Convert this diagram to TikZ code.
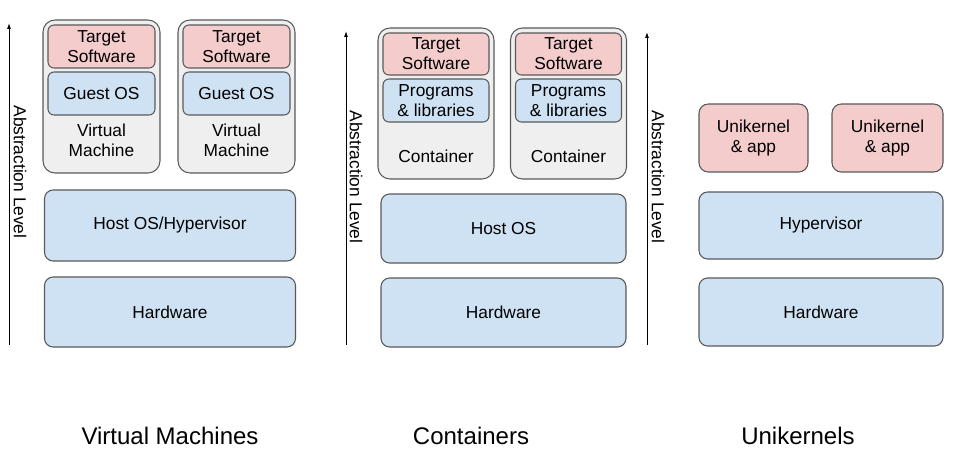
\documentclass[tikz,border=0pt]{standalone}
\usepackage{fontspec}
\setmainfont{Liberation Sans}
\usetikzlibrary{arrows.meta, positioning}
\definecolor{appred}{HTML}{F4CCCC}
\definecolor{layerblue}{HTML}{CFE2F3}
\definecolor{shellgray}{HTML}{EFEFEF}
\definecolor{edgegray}{HTML}{595959}
\tikzset{box/.style 2 args={draw=edgegray, line width=0.8pt, inner sep=0pt,
            minimum width=#1*0.75pt, minimum height=#2*0.75pt, align=center,
            font=\fontsize{13}{15}\selectfont},
        shell/.style={fill=shellgray, rounded corners=9pt},
        layer/.style={fill=layerblue, rounded corners=6.5pt},
        app/.style={fill=appred, rounded corners=4.5pt},
        inner/.style={fill=layerblue, rounded corners=4.5pt},
        boxtext/.style={font=\fontsize{13}{15}\selectfont, align=center},
        axislabel/.style={font=\fontsize{13}{15}\selectfont, rotate=-90},
        caption/.style={font=\fontsize{18}{20}\selectfont},
        axis/.style={-{Latex[length=4.5pt, width=3pt]}, line width=0.7pt}}

\begin{document}
\begin{tikzpicture}[x=0.75pt, y=-0.75pt]
    \useasboundingbox (0,0) rectangle (957,460);
    % virtual machines
    \coordinate (vmlow) at (9,345);
    \coordinate (vmtop) at (9,23);
    \draw[axis] (vmlow) -- (vmtop);
    \node[axislabel] (vmaxis) at (20,172) {Abstraction Level};
    \node[box={117}{153}, shell] (vm1) at (101.5,96.5) {};
    \node[box={107}{43}, app] (vmsw1) at (101.5,46.5) {Target\\Software};
    \node[box={107}{43}, inner] (guest1) at (101.5,93.5) {Guest OS};
    \node[boxtext] (vmname1) at (101.5,140) {Virtual\\Machine};
    \node[box={117}{153}, shell] (vm2) at (236.5,96.5) {};
    \node[box={107}{43}, app] (vmsw2) at (236.5,46.5) {Target\\Software};
    \node[box={107}{43}, inner] (guest2) at (236.5,93.5) {Guest OS};
    \node[boxtext] (vmname2) at (236.5,140) {Virtual\\Machine};
    \node[box={251}{71}, layer] (vmhost) at (170,225.5) {Host OS/Hypervisor};
    \node[box={251}{70}, layer] (vmhw) at (170,312) {Hardware};
    \node[caption] (vmcap) at (170,436) {Virtual Machines};

    % containers
    \coordinate (ctlow) at (346,345);
    \coordinate (cttop) at (346,31);
    \draw[axis] (ctlow) -- (cttop);
    \node[axislabel] (ctaxis) at (356,177) {Abstraction Level};
    \node[box={116}{151}, shell] (ct1) at (436,103.5) {};
    \node[box={106}{42}, app] (ctsw1) at (436,54) {Target\\Software};
    \node[box={106}{43}, inner] (libs1) at (436,100.5) {Programs\\\& libraries};
    \node[boxtext] (ctname1) at (436,156) {Container};
    \node[box={116}{151}, shell] (ct2) at (568.5,103.5) {};
    \node[box={106}{42}, app] (ctsw2) at (568.5,54) {Target\\Software};
    \node[box={106}{43}, inner] (libs2) at (568.5,100.5) {Programs\\\& libraries};
    \node[boxtext] (ctname2) at (568.5,156) {Container};
    \node[box={245}{69}, layer] (cthost) at (503.5,228.5) {Host OS};
    \node[box={245}{69}, layer] (cthw) at (503.5,312.5) {Hardware};
    \node[caption] (ctcap) at (471,436) {Containers};

    % unikernels
    \coordinate (uklow) at (647,345);
    \coordinate (uktop) at (647,32);
    \draw[axis] (uklow) -- (uktop);
    \node[axislabel] (ukaxis) at (658,177) {Abstraction Level};
    \node[box={109}{68}, app, rounded corners=7pt] (uk1) at (753.5,138) {Unikernel\\\& app};
    \node[box={111}{68}, app, rounded corners=7pt] (uk2) at (887.5,138) {Unikernel\\\& app};
    \node[box={244}{67}, layer] (ukhyp) at (821,225.5) {Hypervisor};
    \node[box={244}{68}, layer] (ukhw) at (821,312) {Hardware};
    \node[caption] (ukcap) at (798,436) {Unikernels};
\end{tikzpicture}
\end{document}
